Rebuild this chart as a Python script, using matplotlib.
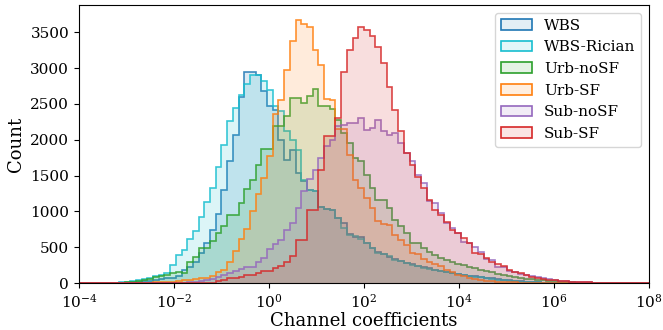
import numpy as np
import matplotlib
matplotlib.use("Agg")
import matplotlib.pyplot as plt
from matplotlib.patches import Patch

plt.rcParams['font.family'] = 'DejaVu Serif'
plt.rcParams['mathtext.fontset'] = 'dejavuserif'

# common log-spaced bins, 1e-4 .. 1e8
bin_edges = np.logspace(-4, 8, 101)

labels = ['WBS', 'WBS-Rician', 'Urb-noSF', 'Urb-SF', 'Sub-noSF', 'Sub-SF']
colors = ['tab:blue', 'tab:cyan', 'tab:green', 'tab:orange', 'tab:purple', 'tab:red']

# counts per bin
wbs = [0]*5 + [2, 3, 5, 8, 12, 18, 25, 35, 45, 55, 65, 75, 100, 190, 230, 300, 420, 560, 740, 960,
               1300, 1700, 2070, 2600, 2950, 2950, 2900, 2680, 2470, 2420, 2000, 1720, 1860, 1540,
               1420, 1300, 1280, 1060, 1030, 1020, 910, 840, 680, 650, 650, 560, 490, 430, 410, 370,
               330, 310, 280, 260, 240, 220, 205, 190, 175, 160, 145, 130, 118, 105, 95, 85, 75, 65,
               55, 46, 38, 30, 24, 18, 14, 10, 7, 5, 3, 2, 1] + [0]*14
wbs_rician = [0]*2 + [2, 3, 4, 6, 8, 14, 18, 28, 37, 56, 70, 102, 118, 140, 255, 395, 465, 614, 721,
                      921, 1125, 1325, 1618, 1930, 2255, 2441, 2627, 2781, 2906, 2906, 2813, 2697, 2465,
                      2395, 2116, 2000, 1860, 1440, 1300, 1280, 1060, 1030, 1020, 907, 767, 674, 651,
                      620, 558, 488, 418, 400, 372, 325, 310, 279, 255, 235, 215, 200, 185, 170, 155,
                      140, 125, 112, 100, 90, 80, 70, 60, 50, 42, 35, 28, 22, 17, 13, 9, 6, 4, 3, 2,
                      1] + [0]*14
urb_nosf = [0]*5 + [3, 5, 8, 12, 20, 30, 46, 60, 84, 102, 120, 140, 160, 140, 300, 370, 488, 488, 581,
                    698, 790, 953, 953, 1116, 1311, 1441, 1650, 1869, 1869, 2185, 2185, 2325, 2581,
                    2581, 2510, 2610, 2710, 2465, 2465, 2430, 2280, 2100, 1950, 1750, 1700, 1510, 1330,
                    1160, 1160, 1050, 880, 790, 700, 560, 560, 490, 430, 395, 350, 320, 290, 270, 250,
                    230, 210, 190, 170, 150, 130, 110, 95, 82, 70, 60, 52, 46, 40, 33, 28, 22, 17, 12,
                    8, 5, 3, 2] + [0]*9
urb_sf = [0]*10 + [2, 4, 6, 9, 12, 16, 20, 28, 40, 46, 55, 70, 75, 100, 150, 190, 300, 450, 620, 750,
                   1000, 1250, 1465, 1767, 2362, 2557, 2967, 3371, 3670, 3620, 3570, 3250, 3040, 2570,
                   2560, 2150, 2150, 1790, 1440, 1320, 1190, 1050, 860, 830, 810, 670, 600, 535, 420,
                   400, 330, 300, 270, 240, 186, 150, 120, 93, 70, 55, 45, 35, 28, 20, 15, 12, 10, 8,
                   6, 5, 4, 3, 2, 2, 1] + [0]*15
sub_nosf = [0]*16 + [3, 5, 8, 12, 20, 28, 40, 60, 80, 120, 140, 170, 200, 220, 232, 300, 349, 474, 540,
                     605, 744, 837, 1046, 1279, 1450, 1581, 1750, 1907, 2000, 2190, 2210, 2232, 2232,
                     2302, 2139, 2162, 2279, 2116, 2069, 2093, 1950, 1810, 1700, 1510, 1400, 1140, 1120,
                     980, 840, 770, 700, 580, 560, 510, 440, 330, 320, 225, 220, 165, 150, 130, 107,
                     100, 80, 70, 55, 47, 30, 23, 18, 14, 12, 10, 8, 6, 5, 3, 2] + [0]*5
sub_sf = [0]*22 + [3, 8, 25, 45, 65, 70, 90, 116, 120, 140, 163, 170, 209, 233, 288, 372, 605, 605, 1023,
                   1023, 1581, 2046, 2046, 2300, 2940, 3250, 3420, 3570, 3530, 3450, 3300, 3070, 2740,
                   2420, 2120, 1810, 1650, 1480, 1330, 1160, 1020, 950, 850, 744, 700, 630, 560, 420,
                   400, 349, 290, 260, 240, 190, 160, 140, 110, 90, 70, 60, 50, 46, 30, 23, 18, 14, 12,
                   10, 8, 6, 5, 3, 2] + [0]*5

series = [wbs, wbs_rician, urb_nosf, urb_sf, sub_nosf, sub_sf]

fig = plt.figure(figsize=(6.63, 3.3), dpi=100)
ax = fig.add_axes([0.119, 0.142, 0.860, 0.843])

handles = []
for counts, lab, col in zip(series, labels, colors):
    ax.stairs(counts, bin_edges, fill=True, color=col, alpha=0.15, lw=0)
    ax.stairs(counts, bin_edges, color=col, lw=1.2, alpha=0.85)
    handles.append(Patch(facecolor=matplotlib.colors.to_rgba(col, 0.12),
                         edgecolor=col, lw=1.2, label=lab))

ax.set_xscale('log')
ax.set_xlim(1e-4, 1e8)
ax.set_ylim(0, 3880)
ax.set_xticks([10.0**p for p in range(-4, 9, 2)])
ax.minorticks_off()
ax.tick_params(labelsize=11)
ax.set_xlabel('Channel coefficients', fontsize=13, labelpad=1)
ax.set_ylabel('Count', fontsize=13)
ax.legend(handles=handles, loc='upper right', fontsize=11)

fig.savefig('out.png', dpi=100)
